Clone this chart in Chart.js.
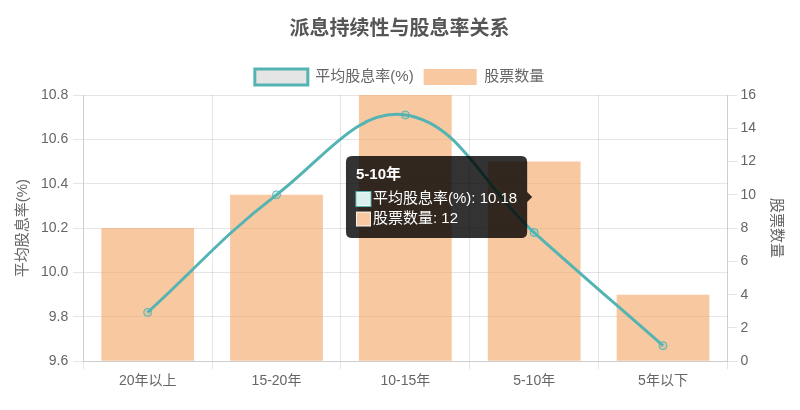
<!DOCTYPE html>
<html>
<head>
<meta charset="utf-8">
<script src="https://cdn.jsdelivr.net/npm/chart.js@4"></script>
<style>
  html, body { margin: 0; padding: 0; background: #fff; }
  #wrap { width: 800px; height: 410px; }
</style>
</head>
<body>
<div id="wrap"><canvas id="divChart"></canvas></div>
<script>
const categories = ['20年以上', '15-20年', '10-15年', '5-10年', '5年以下'];
const avgYield = [9.82, 10.35, 10.71, 10.18, 9.67];
const stockCount = [8, 10, 16, 12, 4];
const yieldTicks = [9.6, 10.8, 0.2];
const countTicks = [0, 16, 2];

Chart.defaults.font.family = "'Liberation Sans', 'Noto Sans CJK SC', sans-serif";
Chart.defaults.color = '#666';

const teal = 'rgb(84,180,180)';
const sand = 'rgba(244,164,96,0.6)';

const ctx = document.getElementById('divChart').getContext('2d');
const chart = new Chart(ctx, {
  type: 'bar',
  data: {
    labels: categories,
    datasets: [{
      type: 'line',
      label: '平均股息率(%)',
      data: avgYield,
      yAxisID: 'y',
      borderColor: teal,
      backgroundColor: 'rgba(0,0,0,0.1)',
      borderWidth: 3,
      tension: 0.4,
      pointRadius: 4,
      pointHoverRadius: 4,
      pointBorderWidth: 1,
      pointHoverBorderWidth: 1,
      pointBackgroundColor: 'rgba(84,180,180,0.2)',
      pointHoverBackgroundColor: 'rgba(84,180,180,0.2)'
    }, {
      label: '股票数量',
      data: stockCount,
      yAxisID: 'y1',
      backgroundColor: sand,
      hoverBackgroundColor: sand,
      borderWidth: 0,
      categoryPercentage: 0.8,
      barPercentage: 0.9
    }]
  },
  options: {
    responsive: true,
    maintainAspectRatio: false,
    animation: false,
    interaction: { mode: 'index', intersect: false },
    layout: { padding: { left: 10, right: 11, top: 0, bottom: 16 } },
    plugins: {
      title: {
        display: true,
        text: '派息持续性与股息率关系',
        font: { size: 20, weight: 'bold' },
        color: '#555',
        padding: { top: 17, bottom: 18 }
      },
      legend: {
        labels: { font: { size: 15 }, boxWidth: 53, boxHeight: 16, padding: 10 }
      },
      tooltip: {
        titleFont: { size: 15, weight: 'bold' },
        bodyFont: { size: 15 },
        padding: 10,
        boxWidth: 15,
        boxHeight: 15,
        backgroundColor: 'rgba(0,0,0,0.8)'
      }
    },
    scales: {
      x: {
        grid: { offset: true },
        ticks: { font: { size: 14 }, padding: 4 }
      },
      y: {
        position: 'left',
        min: yieldTicks[0],
        max: yieldTicks[1],
        grid: { tickLength: 10 },
        ticks: { stepSize: yieldTicks[2], font: { size: 14 }, padding: 5, callback: v => v.toFixed(1) },
        title: { display: true, text: '平均股息率(%)', font: { size: 15 } }
      },
      y1: {
        position: 'right',
        min: countTicks[0],
        max: countTicks[1],
        ticks: { stepSize: countTicks[2], font: { size: 14 } },
        grid: { drawOnChartArea: false, tickLength: 10 },
        title: { display: true, text: '股票数量', font: { size: 15 }, padding: { top: 4, bottom: 8 } }
      }
    }
  }
});

const active = [{ datasetIndex: 0, index: 3 }, { datasetIndex: 1, index: 3 }];
const meta = chart.getDatasetMeta(0).data[3];
chart.setActiveElements(active);
chart.tooltip.setActiveElements(active, { x: meta.x, y: meta.y });
chart.update();
</script>
</body>
</html>
